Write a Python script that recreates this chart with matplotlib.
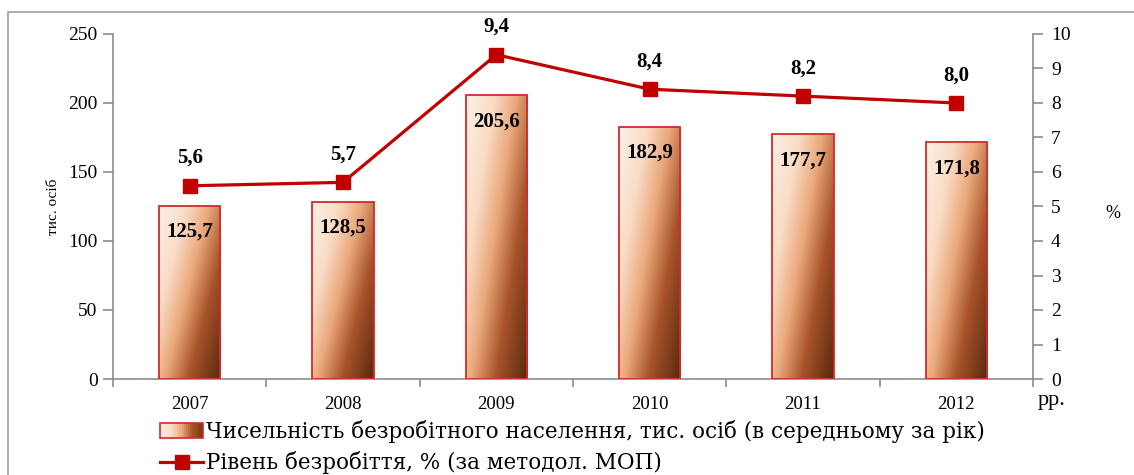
import numpy as np
import matplotlib
matplotlib.use("Agg")
import matplotlib.pyplot as plt
from matplotlib.colors import LinearSegmentedColormap
from matplotlib.patches import Rectangle
from matplotlib.lines import Line2D
from matplotlib.legend_handler import HandlerBase

# --- дані ---
years = ["2007", "2008", "2009", "2010", "2011", "2012"]
unemployed = [125.7, 128.5, 205.6, 182.9, 177.7, 171.8]   # тис. осіб
rate = [5.6, 5.7, 9.4, 8.4, 8.2, 8.0]                     # %
bar_labels = ["125,7", "128,5", "205,6", "182,9", "177,7", "171,8"]
rate_labels = ["5,6", "5,7", "9,4", "8,4", "8,2", "8,0"]
left_ticks = [0, 50, 100, 150, 200, 250]
right_ticks = list(range(0, 11))

plt.rcParams["font.family"] = ["Liberation Serif", "DejaVu Serif"]

RED = "#C00000"
EDGE = "#D42A2A"
SPINE = "#8C8C8C"
cmap = LinearSegmentedColormap.from_list(
    "brown", [(0.0, "#FCF5EF"), (0.3, "#F9DCC5"), (0.5, "#EAA97C"),
              (0.72, "#A8532A"), (1.0, "#5A2A0E")])

fig = plt.figure(figsize=(11.34, 4.75), dpi=100)
W, H = 1134, 475

# рамка навколо діаграми
fig.patches.append(Rectangle((8 / W, -0.1), 1.2, 1 - 12 / H + 0.1,
                             transform=fig.transFigure, fill=False,
                             edgecolor="#A0A0A0", lw=1.2))

ax = fig.add_axes([113 / W, 96 / H, 920 / W, 345 / H])
ax2 = ax.twinx()

x = np.arange(len(years))
bw = 0.40

# градієнтні стовпчики
uu, vv = np.meshgrid(np.linspace(0, 1, 80), np.linspace(1, 0, 200))
grad = 0.55 * uu + 0.45 * (1 - vv) * 0.9 + 0.05
for xi, val, lab in zip(x, unemployed, bar_labels):
    rect = Rectangle((xi - bw / 2, 0), bw, val, facecolor="none",
                     edgecolor=EDGE, lw=1.3, zorder=3)
    ax.add_patch(rect)
    im = ax.imshow(grad, cmap=cmap, vmin=0, vmax=1, aspect="auto",
                   extent=(xi - bw / 2, xi + bw / 2, 0, val), zorder=2,
                   interpolation="bilinear")
    im.set_clip_path(rect)
    ax.annotate(lab, (xi, val), xytext=(0, -19), textcoords="offset points",
                ha="center", va="center", fontsize=15, fontweight="bold",
                zorder=5)
ax.set_xlim(-0.5, len(years) - 0.5)
ax.set_ylim(0, 250)
ax2.set_ylim(0, 10)

# лінія рівня безробіття
ax2.plot(x, rate, color=RED, lw=2.3, marker="s", ms=9.5, zorder=6)
for xi, r, lab in zip(x, rate, rate_labels):
    ax2.annotate(lab, (xi, r), xytext=(0, 20), textcoords="offset points",
                 ha="center", va="center", fontsize=15, fontweight="bold")

# осі
for a in (ax, ax2):
    for s in a.spines.values():
        s.set_visible(False)
ax.spines["left"].set_visible(True)
ax.spines["bottom"].set_visible(True)
ax2.spines["right"].set_visible(True)
for s in (ax.spines["left"], ax.spines["bottom"], ax2.spines["right"]):
    s.set_color(SPINE)
    s.set_linewidth(1.2)

ax.set_yticks(left_ticks)
ax2.set_yticks(right_ticks)
ax.set_xticks(x)
ax.set_xticklabels(years)
ax.set_xticks(np.arange(-0.5, len(years)), minor=True)
ax.tick_params(axis="x", which="major", length=0, pad=12, labelsize=13.5)
ax.tick_params(axis="x", which="minor", length=6, color=SPINE, width=1.2)
ax.tick_params(axis="y", length=7, color=SPINE, width=1.2, labelsize=14,
               pad=4)
ax2.tick_params(axis="y", length=7, color=SPINE, width=1.2, labelsize=14,
                pad=6)

ax.set_ylabel("тис. осіб", fontsize=11, labelpad=2)
ax.yaxis.set_label_coords(-0.058, 0.5)
fig.text(1113 / W, 1 - 213 / H, "%", fontsize=13, ha="center", va="center")
fig.text(1052 / W, 1 - 400 / H, "рр.", fontsize=16, ha="center",
         va="center")


# легенда з градієнтним маркером
class GradHandler(HandlerBase):
    def create_artists(self, legend, orig, xd, yd, width, height, fontsize,
                       trans):
        arts = []
        n = 20
        for i in range(n):
            arts.append(Rectangle((xd + width * i / n, yd), width / n + 0.3,
                                  height, facecolor=cmap(0.1 + 0.85 * i / n),
                                  edgecolor="none", transform=trans))
        arts.append(Rectangle((xd, yd), width, height, facecolor="none",
                              edgecolor=EDGE, lw=1.2, transform=trans))
        return arts


bar_handle = Rectangle((0, 0), 1, 1)
line_handle = Line2D([], [], color=RED, lw=2.3, marker="s", ms=9.5)
fig.legend([bar_handle, line_handle],
           ["Чисельність безробітного населення, тис. осіб (в середньому за рік)",
            "Рівень безробіття, % (за методол. МОП)"],
           handler_map={bar_handle: GradHandler()},
           loc="upper left", bbox_to_anchor=(160 / W, 1 - 420 / H),
           frameon=False, handlelength=2.0, handletextpad=0.12,
           labelspacing=0.38, borderpad=0, borderaxespad=0,
           prop={"family": "DejaVu Serif", "size": 15.5})

fig.savefig("out.png", dpi=100)
